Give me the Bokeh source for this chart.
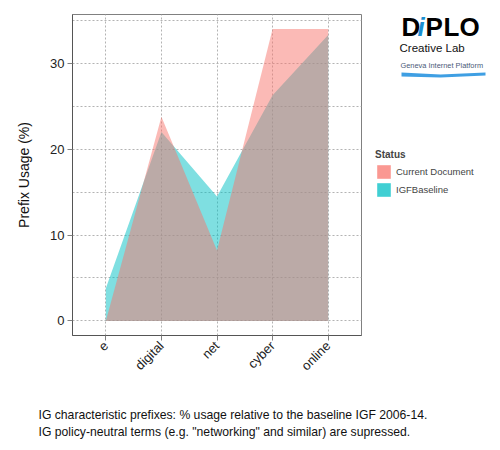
from bokeh.plotting import figure
from bokeh.layouts import row, column
from bokeh.models import (Range1d, FixedTicker, Label, Legend, LegendItem,
                          ColumnDataSource, PolyAnnotation)
from bokeh.embed import file_html
from bokeh.resources import INLINE

# data
prefixes = ["e", "digital", "net", "cyber", "online"]
current_doc = [0.0, 23.8, 8.2, 34.0, 34.0]
igf_baseline = [3.8, 22.0, 14.5, 26.3, 33.3]
series_names = ["Current Document", "IGFBaseline"]
series_colors = ["#F8766D", "#00BFC4"]
y_ticks = [0, 10, 20, 30]
y_minor = [5, 15, 25, 35]
caption = ["IG characteristic prefixes: % usage relative to the baseline IGF 2006-14.",
           "IG policy-neutral terms (e.g. \"networking\" and similar) are supressed."]

FONT = "Liberation Sans"
xpos = list(range(1, len(prefixes) + 1))


def blank(w, h, xr, yr, top=0, bottom=0):
    # a figure used only as a canvas for texts
    f = figure(width=w, height=h, output_backend="svg", toolbar_location=None,
               x_range=xr, y_range=yr, x_axis_location=None, y_axis_location=None,
               min_border_left=0, min_border_right=0, min_border_top=top,
               min_border_bottom=bottom)
    f.grid.visible = False
    f.outline_line_color = None
    f.background_fill_color = "white"
    f.border_fill_color = "white"
    return f


def text(fig, x, y, s, size, color="#111111", style="normal"):
    fig.add_layout(Label(x=x, y=y, text=s, text_font=FONT, text_font_size=size,
                         text_font_style=style, text_color=color,
                         text_baseline="alphabetic"))


# ---- main chart
p = figure(width=362, height=395, output_backend="svg", toolbar_location=None,
           x_range=Range1d(0.4, len(prefixes) + 0.6), y_range=Range1d(-1.7, 35.7),
           min_border_left=72, min_border_top=14, min_border_right=1, min_border_bottom=60)
p.background_fill_color = "white"
p.border_fill_color = "white"
p.outline_line_color = "#808080"

# areas: baseline underneath, current document on top
p.varea(x=xpos, y1=0, y2=igf_baseline, fill_color=series_colors[1], fill_alpha=0.5)
p.varea(x=xpos, y1=0, y2=current_doc, fill_color=series_colors[0], fill_alpha=0.5)

p.xaxis.ticker = FixedTicker(ticks=xpos)
p.xaxis.major_label_overrides = {i: s for i, s in zip(xpos, prefixes)}
p.xaxis.major_label_orientation = 0.785398
p.yaxis.ticker = FixedTicker(ticks=y_ticks, minor_ticks=y_minor)
p.yaxis.axis_label = "Prefix Usage (%)"
p.yaxis.axis_label_standoff = 15
p.yaxis.axis_label_text_font = FONT
p.yaxis.axis_label_text_font_size = "14px"
p.yaxis.axis_label_text_font_style = "normal"
p.yaxis.axis_label_text_color = "#111111"
for ax in (p.xaxis, p.yaxis):
    ax.axis_line_color = "#555555"
    ax.major_tick_line_color = "#808080"
    ax.major_tick_out = 5
    ax.major_tick_in = 0
    ax.minor_tick_line_color = None
    ax.major_label_text_font = FONT
    ax.major_label_text_font_size = "13px"
    ax.major_label_text_color = "#222222"
    ax.major_label_standoff = 3

p.xgrid.ticker = FixedTicker(ticks=xpos)
p.ygrid.ticker = FixedTicker(ticks=y_ticks, minor_ticks=y_minor)
for g in (p.xgrid, p.ygrid):
    g.grid_line_color = "#b3b3b3"
    g.grid_line_dash = "2 2"
p.ygrid.minor_grid_line_color = "#b3b3b3"
p.ygrid.minor_grid_line_dash = "2 2"

# ---- right side: logo and legend; same borders as the main chart so the
# frame spans page y 14..335 and data units equal page pixels
side = blank(138, 395, Range1d(362, 500), Range1d(335, 14), top=14, bottom=60)
for ch, x, col in zip("DiPLO", [401, 417, 425, 443, 459],
                      ["black", "#1a8fd0", "black", "black", "black"]):
    text(side, x, 26, ch, "26px", col, "bold italic" if ch == "i" else "bold")
text(side, 399, 47, "Creative Lab", "11.5px")
text(side, 400, 65, "Geneva Internet Platform", "7.4px", "#4a5a78")
side.add_layout(PolyAnnotation(xs=[401, 440, 485, 485, 440, 401], ys=[72, 74, 72, 75, 77, 76],
                               fill_color="#2a95e0", fill_alpha=0.9, line_color=None))

# key renderers: one NaN row each, so only the legend swatch is drawn
nan_src = ColumnDataSource(dict(x=[float("nan")], y=[float("nan")]))
keys = [side.rect(x="x", y="y", width=1, height=1, source=nan_src,
                  fill_color=c, fill_alpha=0.75, line_color=None) for c in series_colors]
legend = Legend(items=[LegendItem(label=n, renderers=[r]) for n, r in zip(series_names, keys)],
                location=(13, 137), title="Status", title_text_font=FONT,
                title_text_font_style="bold", title_text_font_size="10px",
                title_standoff=3, label_text_font=FONT, label_text_font_size="9.5px",
                glyph_width=17, glyph_height=17, label_height=17, label_standoff=4,
                spacing=1, padding=0, margin=0, border_line_color=None,
                background_fill_alpha=0)
side.add_layout(legend)

# ---- caption below
cap = blank(500, 55, Range1d(0, 500), Range1d(450, 395))
for i, line in enumerate(caption):
    text(cap, 38, 414 + 17 * i, line, "12.2px")

layout = column(row(p, side, spacing=0), cap, spacing=0)
open("out.html", "w").write(file_html(layout, INLINE))
